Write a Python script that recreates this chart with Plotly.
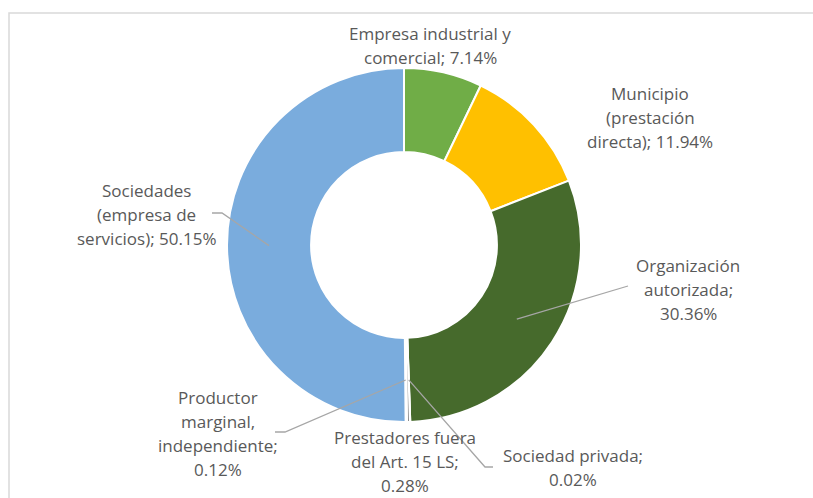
import math
import plotly.graph_objects as go

# Share of providers by type (%), clockwise from 12 o'clock
categories = [
    "Empresa industrial y<br>comercial",
    "Municipio<br>(prestación<br>directa)",
    "Organización<br>autorizada",
    "Sociedad privada",
    "Prestadores fuera<br>del Art. 15 LS",
    "Productor<br>marginal,<br>independiente",
    "Sociedades<br>(empresa de<br>servicios)",
]
values = [7.14, 11.94, 30.36, 0.02, 0.28, 0.12, 50.15]
colors = ["#70AD47", "#FFC000", "#466A2C", "#A5A5A5", "#8C8C8C", "#BFBFBF", "#7AACDD"]

# How each label is split into lines: the value goes after "; " on the last name line,
# or on its own line
value_on_own_line = [False, False, True, True, True, True, False]

W, H = 813, 498
CX, CY, R_OUT, HOLE = 404, 245, 177, 0.525

# Label block centres (px) and optional leader-line elbow/end points (px)
label_pos = [
    (430, 33), (650, 93), (688, 265), (573, 455), (405, 437), (218, 397), (146, 190),
]
leader = [
    None,
    None,
    [(628, 286)],
    [(485, 467), (493, 467)],
    None,
    [(285, 432), (275, 432)],
    [(222, 213), (212, 213)],
]
LINE_H = 24.3

fig = go.Figure()

fig.add_trace(go.Pie(
    labels=[c.replace("<br>", " ") for c in categories],
    values=values,
    sort=False,
    direction="clockwise",
    rotation=0,
    hole=HOLE,
    marker=dict(colors=colors, line=dict(color="white", width=2)),
    textinfo="none",
    hoverinfo="label+percent",
    showlegend=False,
    domain=dict(x=[(CX - R_OUT) / W, (CX + R_OUT) / W],
                y=[1 - (CY + R_OUT) / H, 1 - (CY - R_OUT) / H]),
))

# Pixel-space overlay axes for labels and leader lines
fig.add_trace(go.Scatter(x=[0, W], y=[0, H], mode="markers",
                         marker=dict(opacity=0), hoverinfo="skip", showlegend=False))

annotations = []
shapes = []
total = sum(values)
r_mid = R_OUT * (1 + HOLE) / 2
cum = 0.0
for i, (name, v) in enumerate(zip(categories, values)):
    mid_frac = (cum + v / 2) / total
    cum += v
    theta = 2 * math.pi * mid_frac
    sx = CX + r_mid * math.sin(theta)
    sy = CY - r_mid * math.cos(theta)

    parts = name.split("<br>")
    if value_on_own_line[i]:
        parts[-1] = parts[-1] + ";"
        parts.append(f"{v:.2f}%")
    else:
        parts[-1] = parts[-1] + f"; {v:.2f}%"
    lx, ly = label_pos[i]
    for k, line in enumerate(parts):
        annotations.append(dict(
            x=lx, y=ly + k * LINE_H, xref="x", yref="y", text=line, showarrow=False,
            xanchor="center", yanchor="middle",
            font=dict(family="Open Sans, sans-serif", size=17, color="#595959"),
        ))

    if leader[i]:
        pts = [(sx, sy)] + leader[i]
        path = "M " + " L ".join(f"{x:.1f},{y:.1f}" for x, y in pts)
        shapes.append(dict(type="path", path=path, xref="x", yref="y",
                           line=dict(color="#A6A6A6", width=1.3), layer="above"))

# Chart frame
shapes.append(dict(type="rect", x0=9, y0=13, x1=W + 10, y1=H + 10, xref="x", yref="y",
                   line=dict(color="#D9D9D9", width=1.5), layer="below"))

fig.update_layout(
    width=W, height=H,
    margin=dict(l=0, r=0, t=0, b=0),
    paper_bgcolor="white", plot_bgcolor="rgba(0,0,0,0)",
    xaxis=dict(range=[0, W], visible=False, fixedrange=True),
    yaxis=dict(range=[H, 0], visible=False, fixedrange=True),
    annotations=annotations,
    shapes=shapes,
)

fig.write_html("out.html")
